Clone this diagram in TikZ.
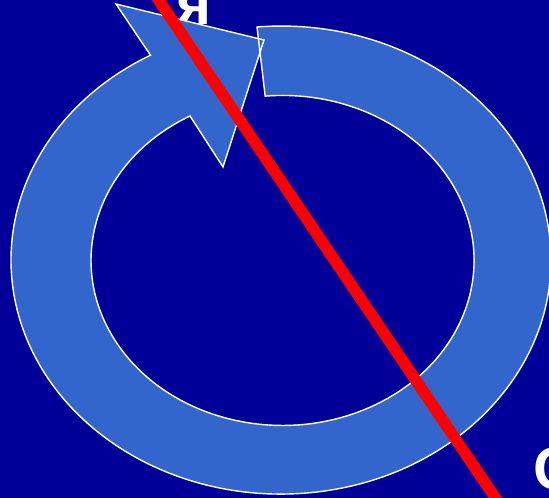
\documentclass[tikz,border=0pt]{standalone}
\usepackage{fontspec}
\setmainfont{Liberation Sans}
\usetikzlibrary{calc}
\definecolor{bgblue}{HTML}{000099}
\definecolor{ringblue}{HTML}{3366CC}
\definecolor{redline}{HTML}{FF0000}
\tikzset{
  ring/.style={fill=ringblue, draw=white, line width=1.4pt, line join=miter},
  bar/.style={draw=redline, line width=11.5pt},
  letter/.style={text=white, font=\bfseries\fontsize{60}{60}\selectfont, inner sep=0pt, anchor=base west}
}
\begin{document}
\begin{tikzpicture}[x=1pt,y=1pt]
\fill[bgblue] (0,0) rectangle (549,498);
\useasboundingbox (0,0) rectangle (549,498);
\clip (0,0) rectangle (549,498);
\node[letter] (ya) at (176,473) {я};
\node[letter] (es) at (533,8) {С};
\draw[ring] (257,471) arc[start angle=95.1, end angle=-241.1, x radius=270, y radius=234]
  -- (116,494) -- (264,458) -- (223,331) -- (190,382)
  arc[start angle=-241.1, end angle=95.2, x radius=191.5, y radius=165] -- cycle;
\coordinate (r1) at (158.6,498);
\coordinate (r2) at (495.4,0);
\draw[bar] ($(r1)!-0.1!(r2)$) -- ($(r2)!-0.1!(r1)$);
\end{tikzpicture}
\end{document}
